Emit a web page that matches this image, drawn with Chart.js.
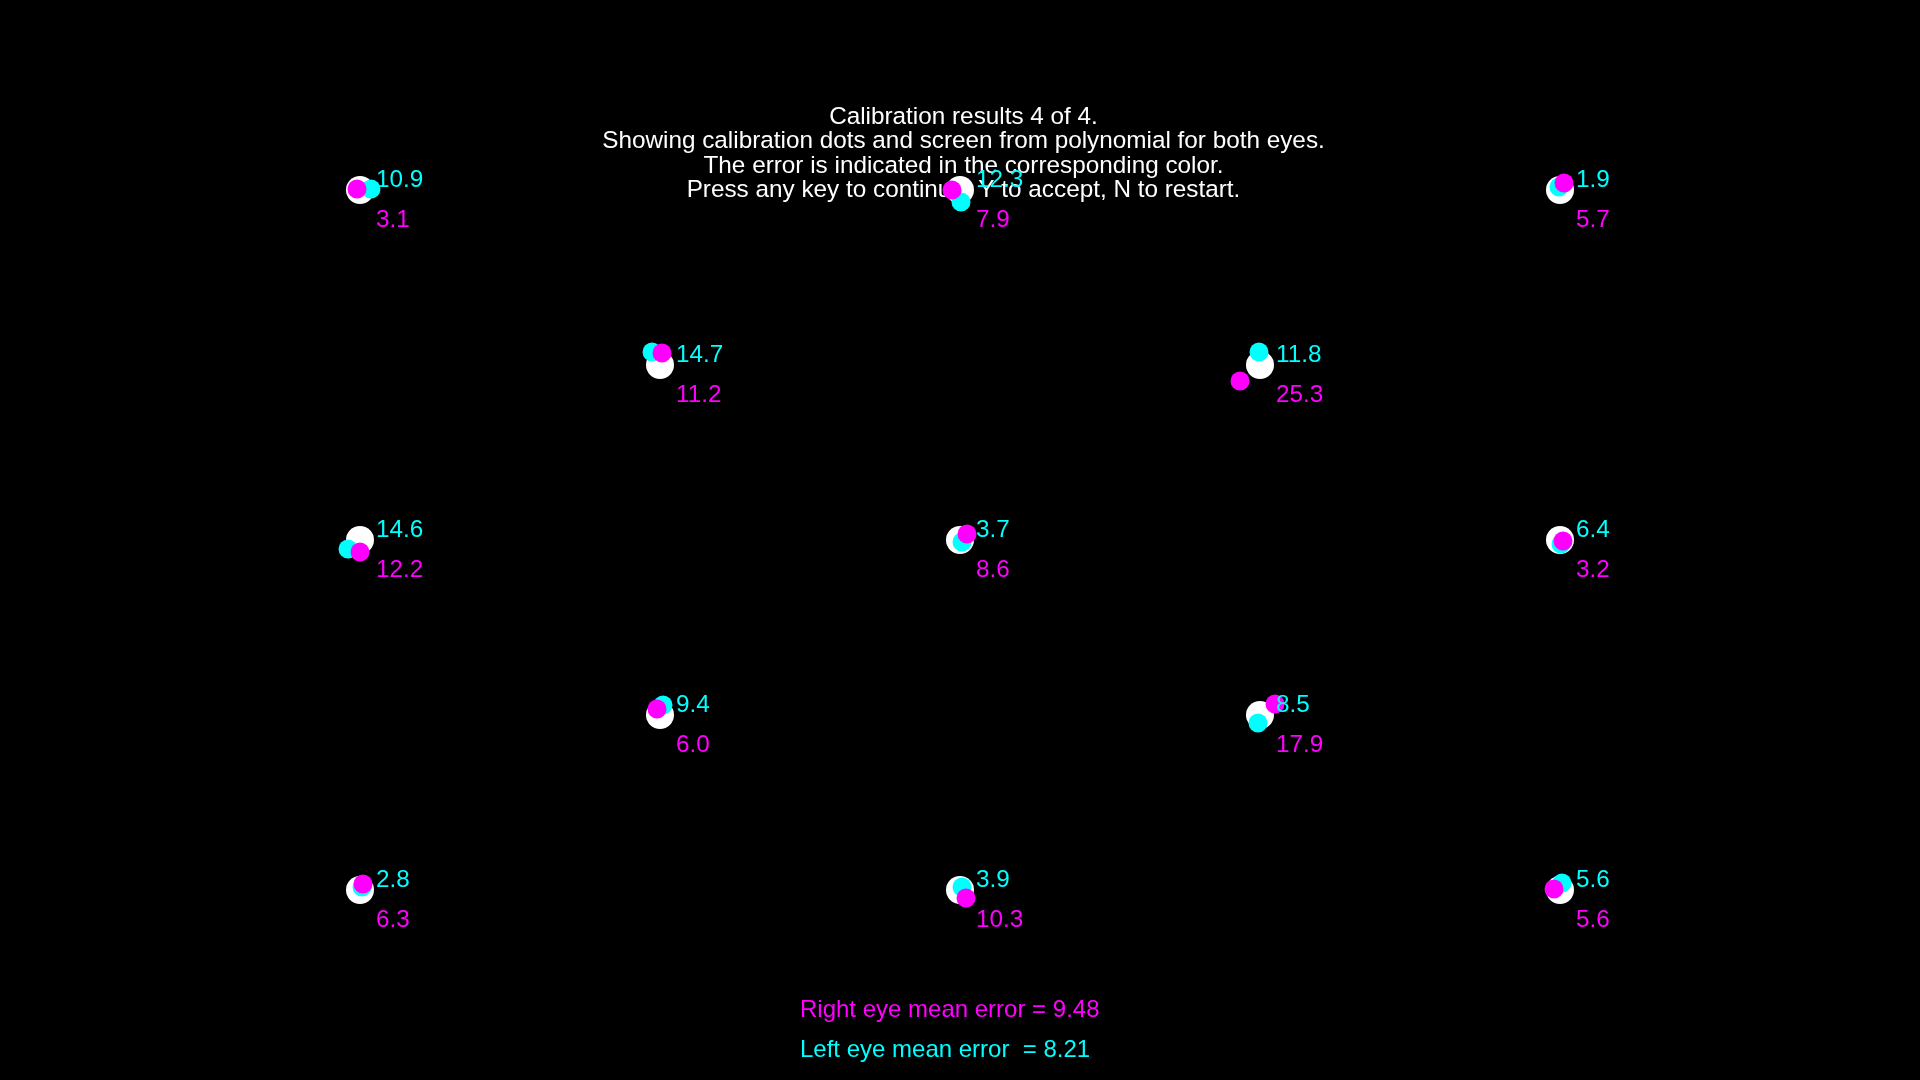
<!DOCTYPE html>
<html>
<head>
<meta charset="utf-8">
<script src="https://cdn.jsdelivr.net/npm/chart.js@4/dist/chart.umd.min.js"></script>
<style>
  html, body { margin: 0; padding: 0; background: #000; overflow: hidden; }
  canvas { display: block; }
</style>
</head>
<body>
<canvas id="c" width="1920" height="1080"></canvas>
<script>
// Calibration targets (screen pixels)
const targetX = [360, 960, 1560, 660, 1260, 360, 960, 1560, 660, 1260, 360, 960, 1560];
const targetY = [190, 190, 190, 365, 365, 540, 540, 540, 715, 715, 890, 890, 890];
// Left eye (cyan) estimated gaze positions
const leftX = [371, 961, 1559, 652, 1259, 348, 962, 1561, 663, 1258, 362, 962, 1562];
const leftY = [189, 202, 187, 352, 352, 549, 542, 544, 705, 723, 887, 887, 883];
// Right eye (magenta) estimated gaze positions
const rightX = [357, 952, 1564, 662, 1240, 360, 967, 1563, 657, 1275, 363, 966, 1554];
const rightY = [189, 190, 183, 353, 381, 552, 534, 541, 709, 704, 884, 898, 889];
// Errors
const leftErr = ["10.9", "12.3", "1.9", "14.7", "11.8", "14.6", "3.7", "6.4", "9.4", "8.5", "2.8", "3.9", "5.6"];
const rightErr = ["3.1", "7.9", "5.7", "11.2", "25.3", "12.2", "8.6", "3.2", "6.0", "17.9", "6.3", "10.3", "5.6"];
// Texts
const titleLines = [
  "Calibration results 4 of 4.",
  "Showing calibration dots and screen from polynomial for both eyes.",
  "The error is indicated in the corresponding color.",
  "Press any key to continue, Y to accept, N to restart."
];
const rightMeanText = "Right eye mean error = 9.48";
const leftMeanText = "Left eye mean error  = 8.21";

const CYAN = "rgb(0,255,255)";
const MAGENTA = "rgb(255,0,255)";
const FONT = "24.3px 'Liberation Sans', Arial, sans-serif";
const FONT_BOTTOM = "24px 'Liberation Sans', Arial, sans-serif";

const toPts = (xs, ys) => xs.map((x, i) => ({ x: x, y: ys[i] }));

const bgPlugin = {
  id: "bg",
  beforeDraw(chart) {
    const ctx = chart.ctx;
    ctx.save();
    ctx.fillStyle = "#000";
    ctx.fillRect(0, 0, chart.width, chart.height);
    ctx.restore();
  },
  beforeDatasetsDraw(chart) {
    const ctx = chart.ctx;
    const xs = chart.scales.x, ys = chart.scales.y;
    ctx.save();
    ctx.font = FONT;
    ctx.fillStyle = "#fff";
    ctx.textAlign = "center";
    ctx.textBaseline = "alphabetic";
    const cx = xs.getPixelForValue(963.5);
    titleLines.forEach((t, i) => {
      ctx.fillText(t, cx, ys.getPixelForValue(124 + i * 24.3));
    });
    ctx.restore();
  },
  afterDatasetsDraw(chart) {
    const ctx = chart.ctx;
    const xs = chart.scales.x, ys = chart.scales.y;
    ctx.save();
    ctx.font = FONT;
    ctx.textAlign = "left";
    ctx.textBaseline = "alphabetic";
    targetX.forEach((tx, i) => {
      const px = xs.getPixelForValue(tx) + 16;
      const py = ys.getPixelForValue(targetY[i]);
      ctx.fillStyle = CYAN;
      ctx.fillText(leftErr[i], px, py - 3);
      ctx.fillStyle = MAGENTA;
      ctx.fillText(rightErr[i], px, py + 37);
    });
    ctx.font = FONT_BOTTOM;
    ctx.fillStyle = MAGENTA;
    ctx.fillText(rightMeanText, xs.getPixelForValue(800), ys.getPixelForValue(1017));
    ctx.fillStyle = CYAN;
    ctx.fillText(leftMeanText, xs.getPixelForValue(800), ys.getPixelForValue(1057));
    ctx.restore();
  }
};

new Chart(document.getElementById("c"), {
  type: "scatter",
  data: {
    datasets: [
      { label: "Right eye", data: toPts(rightX, rightY), backgroundColor: MAGENTA, borderWidth: 0, pointRadius: 9.5, order: 0 },
      { label: "Left eye", data: toPts(leftX, leftY), backgroundColor: CYAN, borderWidth: 0, pointRadius: 9.5, order: 1 },
      { label: "Targets", data: toPts(targetX, targetY), backgroundColor: "#fff", borderWidth: 0, pointRadius: 14, order: 2 }
    ]
  },
  options: {
    responsive: false,
    animation: false,
    devicePixelRatio: 1,
    layout: { padding: 0, autoPadding: false },
    plugins: { legend: { display: false }, tooltip: { enabled: false }, title: { display: false } },
    scales: {
      x: { type: "linear", min: 0, max: 1920, display: false },
      y: { type: "linear", min: 0, max: 1080, reverse: true, display: false }
    },
    elements: { point: { hoverRadius: 9.5 } }
  },
  plugins: [bgPlugin]
});
</script>
</body>
</html>
